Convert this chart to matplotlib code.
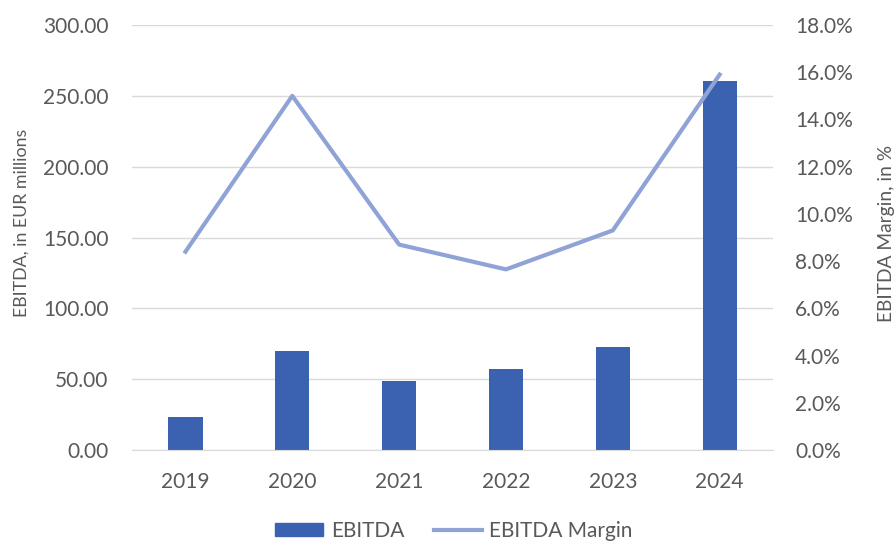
import matplotlib.pyplot as plt
import matplotlib.ticker as mtick
from matplotlib.patches import Patch
from matplotlib.lines import Line2D

plt.rcParams['font.family'] = ['Lato', 'DejaVu Sans']

years = ['2019', '2020', '2021', '2022', '2023', '2024']
ebitda = [23.1, 69.9, 48.7, 57.0, 72.5, 260.7]          # EUR millions
ebitda_margin = [8.4, 15.0, 8.7, 7.65, 9.3, 15.9]       # percent

bar_color = '#3B62B0'
line_color = '#8FA3D6'
text_color = '#595959'
grid_color = '#D9D9D9'

fig = plt.figure(figsize=(8.94, 5.47), dpi=100)
ax = fig.add_axes([0.1477, 0.1773, 0.717, 0.777])
ax2 = ax.twinx()

x = range(len(years))
ax.bar(x, ebitda, width=0.32, color=bar_color, zorder=2)
ax2.plot(x, ebitda_margin, color=line_color, lw=3, zorder=3)

# left axis: EBITDA
ax.set_xlim(-0.5, 5.5)
ax.set_ylim(0, 300)
ax.set_yticks(range(0, 301, 50))
ax.yaxis.set_major_formatter(mtick.FormatStrFormatter('%.2f'))
ax.grid(axis='y', color=grid_color, lw=1, zorder=0)
ax.set_axisbelow(True)
ax.set_xticks(list(x))
ax.set_xticklabels(years)
ax.set_ylabel('EBITDA, in EUR millions', color=text_color, fontsize=12.8)
ax.yaxis.set_label_coords(-0.16, 0.534)

# right axis: margin
ax2.set_ylim(0, 18)
ax2.set_yticks(range(0, 19, 2))
ax2.yaxis.set_major_formatter(mtick.FormatStrFormatter('%.1f%%'))
ax2.set_ylabel('EBITDA Margin, in %', color=text_color, fontsize=13.8, rotation=90)
ax2.yaxis.set_label_coords(1.163, 0.51)

for a in (ax, ax2):
    for s in a.spines.values():
        s.set_visible(False)
    a.tick_params(length=0, labelsize=15, colors=text_color)
ax.spines['bottom'].set_visible(True)
ax.spines['bottom'].set_color(grid_color)
ax.tick_params(axis='y', pad=17)
ax.tick_params(axis='x', pad=16)
ax2.tick_params(axis='y', pad=16)

handles = [Patch(color=bar_color), Line2D([0], [0], color=line_color, lw=3)]
fig.legend(handles, ['EBITDA', 'EBITDA Margin'], loc='center', bbox_to_anchor=(0.508, 0.03),
           ncol=2, frameon=False, fontsize=15, labelcolor=text_color,
           handlelength=2.3, handleheight=0.6, handletextpad=0.35, columnspacing=1.45)

fig.savefig('out.png', dpi=100)
